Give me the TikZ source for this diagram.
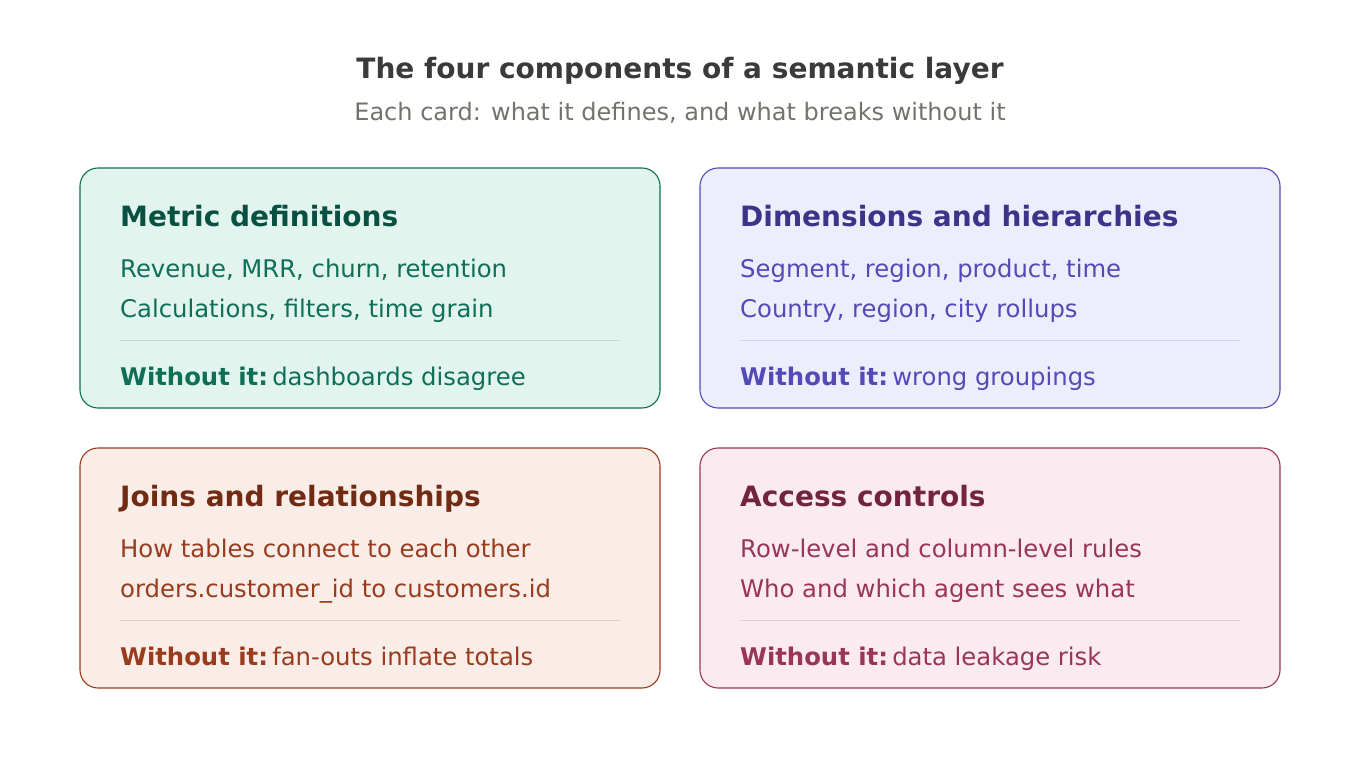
\documentclass[tikz,border=0pt]{standalone}
\usepackage{fontspec}
\setmainfont{DejaVu Sans}
\usetikzlibrary{positioning}
\definecolor{grnfill}{HTML}{E1F5EE}\definecolor{grnline}{HTML}{0F6E56}\definecolor{grnhead}{HTML}{085041}
\definecolor{purfill}{HTML}{EEEDFE}\definecolor{purline}{HTML}{534AB7}\definecolor{purhead}{HTML}{3C3489}
\definecolor{orgfill}{HTML}{FAECE7}\definecolor{orgline}{HTML}{993C1D}\definecolor{orghead}{HTML}{712B13}
\definecolor{pnkfill}{HTML}{FBEAF0}\definecolor{pnkline}{HTML}{993556}\definecolor{pnkhead}{HTML}{72243E}
\definecolor{titlegray}{HTML}{3A3A38}\definecolor{subgray}{HTML}{73726C}
\tikzset{%
    card/.style={rounded corners=18pt, line width=1.1pt},
    heading/.style={anchor=base west, inner sep=0pt, font=\fontsize{28}{32}\selectfont\bfseries},
    body/.style={anchor=base west, inner sep=0pt, font=\fontsize{24.3}{28}\selectfont},
}
% card: name, left x, top y, colour prefix, heading, line 1, line 2, failure
\newcommand{\drawcard}[8]{%
    \draw[card, draw=#4line, fill=#4fill] (#2,#3) rectangle ++(580,240);
    \node[heading, text=#4head] (#1head) at (#2+40,#3+58) {#5};
    \node[body, text=#4line] (#1one) at (#2+40,#3+109) {#6};
    \node[body, text=#4line] (#1two) at (#2+40,#3+149) {#7};
    \draw[#4line!25, line width=1pt] (#2+40,#3+172) -- (#2+540,#3+172);
    \node[body, text=#4line] (#1fail) at (#2+40,#3+217) {\textbf{Without it:}\hspace{-6pt} #8};
}
\begin{document}
\begin{tikzpicture}[x=1pt, y=-1pt]
    \useasboundingbox[fill=white] (0,0) rectangle (1360,760);

    % titles
    \node[font=\fontsize{28}{32}\selectfont\bfseries, text=titlegray, anchor=base] (title) at (680,78) {The four components of a semantic layer};
    \node[font=\fontsize{24}{28}\selectfont, text=subgray, anchor=base] (subtitle) at (680,120) {Each card: what it defines, and what breaks without it};

    % cards
    \drawcard{metric}{80}{168}{grn}{Metric definitions}{Revenue, MRR, churn, retention}{Calculations, filters, time grain}{dashboards disagree}
    \drawcard{dim}{700}{168}{pur}{Dimensions and hierarchies}{Segment, region, product, time}{Country, region, city rollups}{wrong groupings}
    \drawcard{join}{80}{448}{org}{Joins and relationships}{How tables connect to each other}{orders.customer\_id to customers.id}{fan-outs inflate totals}
    \drawcard{access}{700}{448}{pnk}{Access controls}{Row-level and column-level rules}{Who and which agent sees what}{data leakage risk}

\end{tikzpicture}
\end{document}
